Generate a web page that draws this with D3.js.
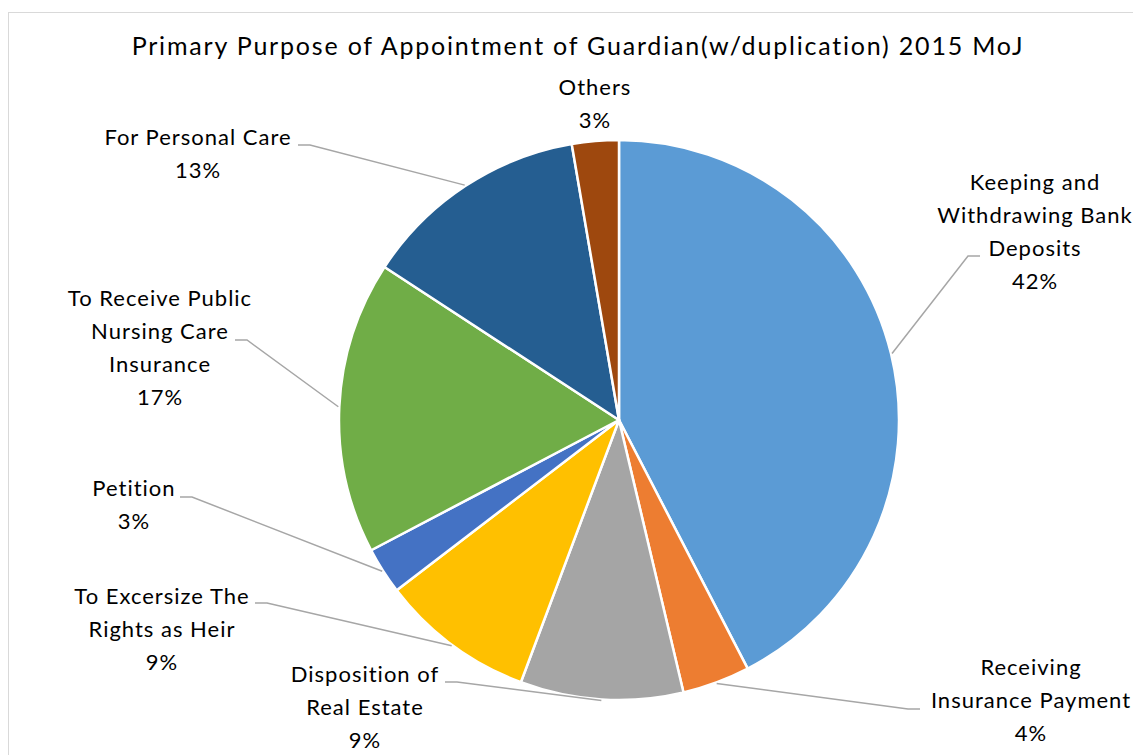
<!DOCTYPE html>
<html>
<head>
<meta charset="utf-8">
<script src="https://cdn.jsdelivr.net/npm/d3@7"></script>
<style>
  body { margin: 0; background: #fff; }
  svg { display: block; font-family: Lato, "Open Sans", sans-serif; }
</style>
</head>
<body>
<svg width="1133" height="755"></svg>
<script>
// data (percent of total)
var categories = [
    "Keeping and Withdrawing Bank Deposits",
    "Receiving Insurance Payment",
    "Disposition of Real Estate",
    "To Excersize The Rights as Heir",
    "Petition",
    "To Receive Public Nursing Care Insurance",
    "For Personal Care",
    "Others"
]
var values = [42.4, 3.9, 9.4, 8.9, 2.7, 16.9, 13.1, 2.7]
var colors = ["#5b9bd5", "#ed7d31", "#a5a5a5", "#ffc000", "#4472c4", "#70ad47", "#255e91", "#9e480e"]

// how each label is wrapped
var labelLines = [
    ["Keeping and", "Withdrawing Bank", "Deposits"],
    ["Receiving", "Insurance Payment"],
    ["Disposition  of", "Real Estate"],
    ["To Excersize The", "Rights as Heir"],
    ["Petition"],
    ["To Receive Public", "Nursing Care", "Insurance"],
    ["For Personal Care"],
    ["Others"]
]

// layout: label centre (x, centre of first line) and where the leader leaves the label
var labelPos = [[1035, 182], [1031, 667], [365, 674], [162, 596], [134, 488], [160, 298], [198, 137], [595, 87]]
var leaderStart = [[980, 256], [920, 709], [445, 682], [255, 603], [180, 497], [235, 340], [298, 145], null]

var svg = d3.select("svg")
var width = +svg.attr("width")
var height = +svg.attr("height")
var cx = 619, cy = 420, radius = 280
var lineH = 33

// chart frame
svg.append("rect")
    .attr("x", 8.5).attr("y", 12.5)
    .attr("width", width + 20).attr("height", height + 20)
    .attr("fill", "none")
    .attr("stroke", "#d9d9d9")

svg.append("text")
    .attr("x", 578).attr("y", 55)
    .attr("text-anchor", "middle")
    .style("font-size", "25px")
    .style("letter-spacing", "1.8px")
    .attr("fill", "#000")
    .text("Primary Purpose of Appointment  of Guardian(w/duplication)  2015 MoJ")

var dataset = categories.map(function(c, i) { return { name: c, value: values[i], i: i } })

var pie = d3.pie().sort(null).value(function(d) { return d.value })
var arcs = pie(dataset)

var path = d3.arc().outerRadius(radius).innerRadius(0)

var g = svg.append("g").attr("transform", "translate(" + cx + "," + cy + ")")

g.selectAll("path")
    .data(arcs)
    .enter().append("path")
    .attr("d", path)
    .attr("fill", function(d) { return colors[d.data.i] })
    .attr("stroke", "#fff")
    .attr("stroke-width", 2.5)
    .attr("stroke-linejoin", "round")

// leader lines: label -> short horizontal -> slice edge at mid angle
arcs.forEach(function(d) {
    var s = leaderStart[d.data.i]
    if (!s) return
    var mid = (d.startAngle + d.endAngle) / 2
    var ex = cx + Math.sin(mid) * (radius + 1)
    var ey = cy - Math.cos(mid) * (radius + 1)
    var dir = ex > s[0] ? 1 : -1
    svg.append("polyline")
        .attr("points", [s, [s[0] + dir * 12, s[1]], [ex, ey]].map(function(p) { return p.join(",") }).join(" "))
        .attr("fill", "none")
        .attr("stroke", "#a6a6a6")
        .attr("stroke-width", 1.5)
})

// data labels
arcs.forEach(function(d) {
    var i = d.data.i
    var lines = labelLines[i].concat([Math.round(d.data.value) + "%"])
    var t = svg.append("text")
        .attr("text-anchor", "middle")
        .style("font-size", "22px")
        .style("letter-spacing", "1px")
        .attr("fill", "#000")
    lines.forEach(function(l, k) {
        t.append("tspan")
            .attr("x", labelPos[i][0])
            .attr("y", labelPos[i][1] + k * lineH + 8)
            .text(l)
    })
})
</script>
</body>
</html>
